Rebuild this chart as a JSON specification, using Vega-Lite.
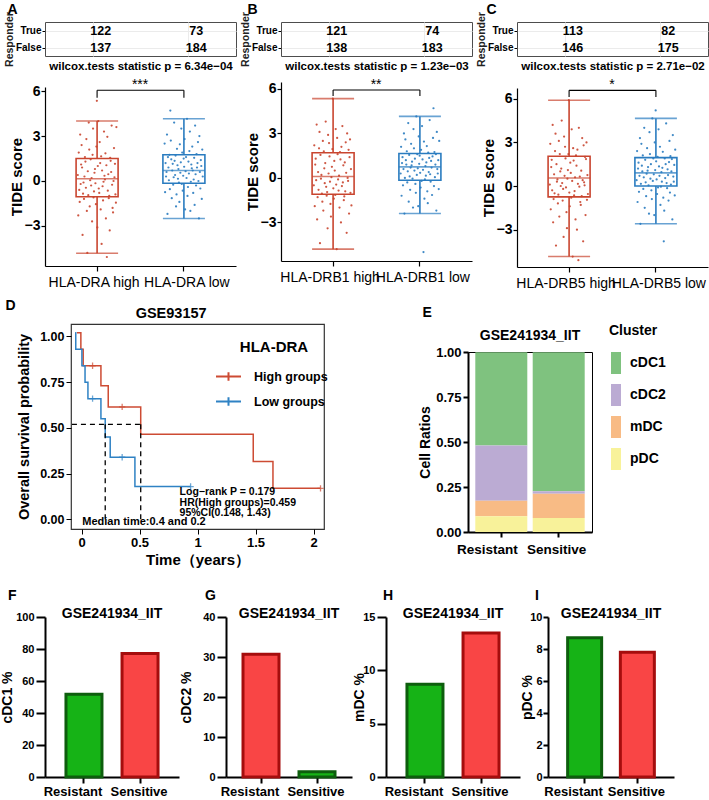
{
"$schema":"https://vega.github.io/schema/vega-lite/v6.json",
"padding":{"left":0,"top":3,"right":0,"bottom":0},
"config":{
 "font":"Liberation Sans",
 "view":{"stroke":null},
 "axis":{"labelFont":"Liberation Sans","titleFont":"Liberation Sans","labelColor":"#000","titleColor":"#000","domainColor":"#000","tickColor":"#000","grid":false},
 "legend":{"labelFont":"Liberation Sans","titleFont":"Liberation Sans","labelColor":"#000","titleColor":"#000"},
 "title":{"font":"Liberation Sans","fontWeight":"bold","color":"#000","fontSize":14},
 "text":{"font":"Liberation Sans"}
},
"datasets":{
 "pts":[
  {"p":"A","g":"HLA-DRA high","lv":"high","v":[0.4,-2.3,1.9,-0.6,-1.4,3.1,-0.2,1.1,2.4,0.9,-3.6,-0.85,-0.1,-1.2,0.3,1.6,1.3,-0.45,2.8,-2.0,-4.8,0.65,-0.95,3.9,2.1,-1.7,0.05,1.45,-0.3,0.2,-2.7,1.75,3.5,-1.1,-0.7,0.55,0.8,-0.15,-1.55,2.3,5.35,-3.1,1.0,4.0,-0.5,-0.8,2.6,1.2,-1.9,1.65,-4.2,0.7,-0.35,-1.3,-0.05,3.3,0.35,0.1,1.85,-2.5,1.05,-5.07,2.95,-0.65,0.45,-1.15,-1.0,-3.3,1.55,1.35,0.6,3.7,-0.25,-1.8,-2.1,0.0,2.2,0.25,1.15,-0.9,-1.45,3.6]},
  {"p":"A","g":"HLA-DRA low","lv":"low","v":[2.5,-0.75,1.2,0.3,0.6,3.1,-2.2,1.6,0.9,0.05,1.75,-0.55,4.7,2.7,1.45,-1.15,0.7,1.15,-0.25,0.25,3.9,1.35,0.4,1.7,-1.7,-0.9,2.15,1.05,0.15,0.8,-0.1,-1.4,2.45,0.55,1.25,3.5,-0.2,1.9,-0.65,0.35,1.5,0.95,2.8,-1.9,0.65,1.6,0.2,4.15,-1.0,-0.4,1.3,0.5,2.0,3.3,-2.0,-0.05,1.1,0.85,2.3,0.7,-0.8,0.1,1.55,-1.6,3.7,0.45,-0.3,1.8,0.9,1.2,2.6,0.0,-2.5,3.0,0.6,-0.5,1.4,1.0,-1.2,2.1,0.3]},
  {"p":"B","g":"HLA-DRB1 high","lv":"high","v":[-0.5,2.2,-1.9,0.9,1.3,-0.15,3.6,-2.8,-1.3,0.4,-0.8,2.0,3.1,-4.4,1.55,-0.05,0.2,-1.05,-1.6,2.5,-2.2,1.8,0.65,-0.35,1.0,3.8,-0.6,-1.2,-0.95,-3.4,2.9,0.3,2.35,1.45,-0.25,-1.75,-2.6,0.05,0.75,1.95,5.35,-0.7,-1.4,1.15,0.5,-1.15,3.3,-0.45,-4.8,2.7,1.6,-0.1,-0.85,0.15,-2.0,1.75,1.25,-3.0,2.1,-0.55,3.5,-0.3,0.85,-1.5,-1.25,1.05,-0.9,2.4,0.35,-3.7,3.0,0.0,-0.2,1.9,-2.4,1.4,2.6,-1.0,0.6,-1.85]},
  {"p":"B","g":"HLA-DRB1 low","lv":"low","v":[0.3,2.1,-1.2,1.0,1.4,-0.5,0.6,3.0,-2.4,0.0,2.6,1.2,0.9,1.8,-0.3,0.45,3.7,-1.6,1.55,0.1,-0.8,0.7,2.3,0.85,1.1,-0.05,-2.0,3.3,2.0,0.5,1.3,-0.4,-1.0,4.15,0.2,1.6,0.65,-1.9,2.8,0.95,1.5,0.35,-0.65,1.9,-0.2,3.5,1.25,0.55,-5.0,2.45,-1.4,-0.1,0.8,0.15,1.05,2.15,-0.9,-1.7,1.7,0.4,1.35,3.9,0.25,-0.25,1.15,0.7,-1.15,1.45,2.7,4.7,-0.55,1.75,0.05,0.9,1.6,-2.2,3.1,0.6,0.3,1.2,-0.75,2.5]},
  {"p":"C","g":"HLA-DRB5 high","lv":"high","v":[0.1,2.9,-1.6,1.3,1.8,-0.3,4.2,-2.5,-0.9,0.8,-0.5,2.4,3.6,-4.1,1.5,0.3,0.45,-1.2,-0.6,3.1,-2.1,2.2,1.0,0.0,1.2,4.5,0.2,-1.0,-0.2,-3.5,3.4,0.7,2.7,1.9,-0.1,-1.8,-2.9,0.5,1.1,2.2,5.9,-0.45,-1.4,1.6,0.9,-0.8,3.9,0.35,-4.85,2.6,1.75,-0.65,-0.35,0.6,-2.3,2.1,1.4,-3.0,2.5,0.15,-5.1,4.0,-0.05,0.65,-1.1,-1.3,1.05,-0.7,3.3,0.4,-3.8,2.8,0.25,0.05,2.0,-2.0,1.85,3.0,-0.95,0.75,-0.55]},
  {"p":"C","g":"HLA-DRB5 low","lv":"low","v":[0.4,2.4,-1.1,1.2,1.6,-0.4,0.7,3.3,-2.6,0.15,2.9,1.4,1.0,2.1,-0.2,0.6,4.0,-1.5,1.8,0.25,-0.7,0.85,2.6,1.05,1.3,0.05,-1.9,3.7,2.2,0.5,1.5,-0.3,-0.9,4.65,0.35,1.9,0.8,-2.0,3.0,1.1,5.2,1.7,0.45,-0.55,2.0,-0.1,3.9,1.35,0.7,2.7,-1.3,-0.05,0.95,0.3,1.25,2.35,-0.8,-3.8,-1.7,1.9,0.55,1.5,4.3,0.2,-0.15,1.15,0.75,-1.0,1.65,3.1,-0.45,2.05,0.1,1.0,1.85,-2.3,3.5,0.65,0.3,1.45,-0.65,2.5]}
 ],
 "box":[
  {"p":"A","g":"HLA-DRA high","lv":"high","lo":-4.82,"q1":-1.05,"md":0.15,"q3":1.5,"hi":4.0},
  {"p":"A","g":"HLA-DRA low","lv":"low","lo":-2.5,"q1":-0.15,"md":0.7,"q3":1.75,"hi":4.15},
  {"p":"B","g":"HLA-DRB1 high","lv":"high","lo":-4.8,"q1":-1.1,"md":0.1,"q3":1.7,"hi":5.35},
  {"p":"B","g":"HLA-DRB1 low","lv":"low","lo":-2.4,"q1":-0.15,"md":0.75,"q3":1.65,"hi":4.15},
  {"p":"C","g":"HLA-DRB5 high","lv":"high","lo":-4.85,"q1":-0.75,"md":0.55,"q3":2.05,"hi":5.9},
  {"p":"C","g":"HLA-DRB5 low","lv":"low","lo":-2.6,"q1":0.0,"md":0.9,"q3":1.95,"hi":4.65}
 ],
 "tab":[
  {"p":"A","g":"HLA-DRA high","r":"True","n":122},{"p":"A","g":"HLA-DRA high","r":"False","n":137},
  {"p":"A","g":"HLA-DRA low","r":"True","n":73},{"p":"A","g":"HLA-DRA low","r":"False","n":184},
  {"p":"B","g":"HLA-DRB1 high","r":"True","n":121},{"p":"B","g":"HLA-DRB1 high","r":"False","n":138},
  {"p":"B","g":"HLA-DRB1 low","r":"True","n":74},{"p":"B","g":"HLA-DRB1 low","r":"False","n":183},
  {"p":"C","g":"HLA-DRB5 high","r":"True","n":113},{"p":"C","g":"HLA-DRB5 high","r":"False","n":146},
  {"p":"C","g":"HLA-DRB5 low","r":"True","n":82},{"p":"C","g":"HLA-DRB5 low","r":"False","n":175}
 ],
 "km":[
  {"grp":"High groups","t":-0.04,"s":1.02},{"grp":"High groups","t":-0.006,"s":0.93},{"grp":"High groups","t":0.014,"s":0.84},
  {"grp":"High groups","t":0.167,"s":0.73},{"grp":"High groups","t":0.23,"s":0.615},{"grp":"High groups","t":0.51,"s":0.466},
  {"grp":"High groups","t":1.48,"s":0.317},{"grp":"High groups","t":1.65,"s":0.17},{"grp":"High groups","t":2.06,"s":0.17},
  {"grp":"Low groups","t":-0.055,"s":1.02},{"grp":"Low groups","t":-0.05,"s":0.93},{"grp":"Low groups","t":0.003,"s":0.84},
  {"grp":"Low groups","t":0.03,"s":0.75},{"grp":"Low groups","t":0.055,"s":0.66},{"grp":"Low groups","t":0.167,"s":0.55},
  {"grp":"Low groups","t":0.204,"s":0.45},{"grp":"Low groups","t":0.247,"s":0.34},{"grp":"Low groups","t":0.46,"s":0.18},
  {"grp":"Low groups","t":0.94,"s":0.18}
 ],
 "cens":[
  {"grp":"High groups","t":0.095,"s":0.84},{"grp":"High groups","t":0.35,"s":0.615},{"grp":"High groups","t":2.06,"s":0.17},
  {"grp":"Low groups","t":0.095,"s":0.66},{"grp":"Low groups","t":0.35,"s":0.34},{"grp":"Low groups","t":0.94,"s":0.18}
 ],
 "med":[
  {"t":-0.083,"t2":0.51,"s":0.52,"s2":0.52},
  {"t":0.204,"t2":0.204,"s":0.52,"s2":0},
  {"t":0.51,"t2":0.51,"s":0.52,"s2":0}
 ],
 "dc":[
  {"cl":"cDC1","grp":"Resistant","pct":51.7},{"cl":"cDC1","grp":"Sensitive","pct":77.2},
  {"cl":"cDC2","grp":"Resistant","pct":30.7},{"cl":"cDC2","grp":"Sensitive","pct":1.3},
  {"cl":"mDC","grp":"Resistant","pct":8.7},{"cl":"mDC","grp":"Sensitive","pct":13.5},
  {"cl":"pDC","grp":"Resistant","pct":8.7},{"cl":"pDC","grp":"Sensitive","pct":7.8}
 ]
},
"resolve":{"scale":{"color":"independent","stroke":"independent"}},
"columns":1,
"align":"none",
"spacing":8,
"concat":[
 {"hconcat":[
  {"title":{"text":"A","anchor":"start","frame":"bounds","fontSize":14,"dx":4,"offset":-6},
   "spacing":6,
   "vconcat":[
    {"width":191,"height":34,"view":{"stroke":"#4d4d4d","strokeWidth":1},
     "data":{"name":"tab"},"transform":[{"filter":"datum.p=='A'"}],
     "mark":{"type":"text","fontSize":12.5,"fontWeight":"bold","dx":8},
     "encoding":{
      "x":{"field":"g","type":"nominal","sort":null,"scale":{"paddingInner":0,"paddingOuter":0.1},"axis":{"labels":false,"ticks":false,"domain":false,"grid":true,"gridColor":"#ebebeb","title":"wilcox.tests statistic p = 6.34e−04","titleFontSize":11.5,"titleFontWeight":"bold","titlePadding":4}},
      "y":{"field":"r","type":"nominal","sort":["True","False"],"axis":{"title":"Responder","titleX":-31,"titleFontSize":10.5,"titleFontWeight":"bold","titleColor":"#222","labelFontSize":10,"labelFontWeight":"bold","tickSize":3,"domain":false,"grid":true,"gridColor":"#ebebeb","labelPadding":1}},
      "text":{"field":"n","type":"quantitative"}}},
    {"width":191,"height":179,
     "encoding":{"x":{"field":"g","type":"nominal","sort":null,"scale":{"paddingInner":0.55,"paddingOuter":0.375},"axis":{"title":null,"labelAngle":0,"labelFontSize":14,"labelPadding":4,"tickSize":5,"tickWidth":1.2,"domainWidth":1.2,"labelOffset":{"condition":{"test":"datum.value=='HLA-DRA high'","value":-3},"value":3}}}},
     "layer":[
      {"data":{"name":"pts"},"transform":[{"filter":"datum.p=='A'"},{"flatten":["v"]},{"window":[{"op":"row_number","as":"k"}],"groupby":["g"]}],
       "mark":{"type":"circle","size":5,"opacity":0.9},
       "encoding":{
        "y":{"field":"v","type":"quantitative","scale":{"domain":[-5.67,6.27],"nice":false,"zero":false},"axis":{"title":"TIDE score","titleX":-21,"values":[-3,0,3,6],"labelFontSize":14,"labelFontWeight":"bold","titleFontSize":15,"titleFontWeight":"bold","tickSize":4,"tickWidth":1.2,"domainWidth":1.2,"labelPadding":1}},
        "xOffset":{"field":"k","type":"nominal"},
        "color":{"field":"lv","type":"nominal","scale":{"domain":["high","low"],"range":["#c9452f","#2a7cc0"]},"legend":null}}},
      {"data":{"name":"box"},"transform":[{"filter":"datum.p=='A'"}],"mark":{"type":"rule","strokeWidth":1.6},
       "encoding":{"y":{"field":"lo","type":"quantitative","title":"TIDE score"},"y2":{"field":"q1"},"color":{"field":"lv","type":"nominal","legend":null}}},
      {"data":{"name":"box"},"transform":[{"filter":"datum.p=='A'"}],"mark":{"type":"rule","strokeWidth":1.6},
       "encoding":{"y":{"field":"q3","type":"quantitative","title":"TIDE score"},"y2":{"field":"hi"},"color":{"field":"lv","type":"nominal","legend":null}}},
      {"data":{"name":"box"},"transform":[{"filter":"datum.p=='A'"}],"mark":{"type":"bar","width":42,"fillOpacity":0,"strokeWidth":1.6},
       "encoding":{"y":{"field":"q1","type":"quantitative","title":"TIDE score"},"y2":{"field":"q3"},"stroke":{"field":"lv","type":"nominal","scale":{"domain":["high","low"],"range":["#c9452f","#2a7cc0"]},"legend":null}}},
      {"data":{"name":"box"},"transform":[{"filter":"datum.p=='A'"},{"fold":["lo","hi","md"],"as":["stat","val"]}],"mark":{"type":"tick","size":42,"thickness":1.6},
       "encoding":{"y":{"field":"val","type":"quantitative","title":"TIDE score"},"color":{"field":"lv","type":"nominal","legend":null}}},
      {"data":{"values":[{}]},"mark":{"type":"rule","color":"#000","strokeWidth":1.1},
       "encoding":{"x":{"datum":"HLA-DRA high"},"x2":{"datum":"HLA-DRA low"},"y":{"datum":6.05}}},
      {"data":{"values":[{}]},"mark":{"type":"rule","color":"#000","strokeWidth":1.1},
       "encoding":{"x":{"datum":"HLA-DRA high"},"y":{"datum":6.05},"y2":{"datum":5.55}}},
      {"data":{"values":[{}]},"mark":{"type":"rule","color":"#000","strokeWidth":1.1},
       "encoding":{"x":{"datum":"HLA-DRA low"},"y":{"datum":6.05},"y2":{"datum":5.55}}},
      {"data":{"values":[{}]},"mark":{"type":"text","text":"***","fontSize":14,"baseline":"alphabetic","dx":43,"dy":-1,"color":"#000"},
       "encoding":{"x":{"datum":"HLA-DRA high"},"y":{"datum":6.05}}}
     ]}
   ]},
  {"title":{"text":"B","anchor":"start","frame":"bounds","fontSize":14,"dx":8,"offset":-6},
   "spacing":6,
   "vconcat":[
    {"width":191,"height":34,"view":{"stroke":"#4d4d4d","strokeWidth":1},
     "data":{"name":"tab"},"transform":[{"filter":"datum.p=='B'"}],
     "mark":{"type":"text","fontSize":12.5,"fontWeight":"bold","dx":8},
     "encoding":{
      "x":{"field":"g","type":"nominal","sort":null,"scale":{"paddingInner":0,"paddingOuter":0.1},"axis":{"labels":false,"ticks":false,"domain":false,"grid":true,"gridColor":"#ebebeb","title":"wilcox.tests statistic p = 1.23e−03","titleFontSize":11.5,"titleFontWeight":"bold","titlePadding":4}},
      "y":{"field":"r","type":"nominal","sort":["True","False"],"axis":{"title":"Responder","titleX":-31,"titleFontSize":10.5,"titleFontWeight":"bold","titleColor":"#222","labelFontSize":10,"labelFontWeight":"bold","tickSize":3,"domain":false,"grid":true,"gridColor":"#ebebeb","labelPadding":1}},
      "text":{"field":"n","type":"quantitative"}}},
    {"width":191,"height":179,
     "encoding":{"x":{"field":"g","type":"nominal","sort":null,"scale":{"paddingInner":0.55,"paddingOuter":0.375},"axis":{"title":null,"labelAngle":0,"labelFontSize":14,"labelPadding":4,"tickSize":5,"tickWidth":1.2,"domainWidth":1.2,"labelOffset":{"condition":{"test":"datum.value=='HLA-DRB1 high'","value":-3},"value":3}}}},
     "layer":[
      {"data":{"name":"pts"},"transform":[{"filter":"datum.p=='B'"},{"flatten":["v"]},{"window":[{"op":"row_number","as":"k"}],"groupby":["g"]}],
       "mark":{"type":"circle","size":5,"opacity":0.9},
       "encoding":{
        "y":{"field":"v","type":"quantitative","scale":{"domain":[-5.6,6.47],"nice":false,"zero":false},"axis":{"title":"TIDE score","titleX":-21,"values":[-3,0,3,6],"labelFontSize":14,"labelFontWeight":"bold","titleFontSize":15,"titleFontWeight":"bold","tickSize":4,"tickWidth":1.2,"domainWidth":1.2,"labelPadding":1}},
        "xOffset":{"field":"k","type":"nominal"},
        "color":{"field":"lv","type":"nominal","scale":{"domain":["high","low"],"range":["#c9452f","#2a7cc0"]},"legend":null}}},
      {"data":{"name":"box"},"transform":[{"filter":"datum.p=='B'"}],"mark":{"type":"rule","strokeWidth":1.6},
       "encoding":{"y":{"field":"lo","type":"quantitative","title":"TIDE score"},"y2":{"field":"q1"},"color":{"field":"lv","type":"nominal","legend":null}}},
      {"data":{"name":"box"},"transform":[{"filter":"datum.p=='B'"}],"mark":{"type":"rule","strokeWidth":1.6},
       "encoding":{"y":{"field":"q3","type":"quantitative","title":"TIDE score"},"y2":{"field":"hi"},"color":{"field":"lv","type":"nominal","legend":null}}},
      {"data":{"name":"box"},"transform":[{"filter":"datum.p=='B'"}],"mark":{"type":"bar","width":42,"fillOpacity":0,"strokeWidth":1.6},
       "encoding":{"y":{"field":"q1","type":"quantitative","title":"TIDE score"},"y2":{"field":"q3"},"stroke":{"field":"lv","type":"nominal","scale":{"domain":["high","low"],"range":["#c9452f","#2a7cc0"]},"legend":null}}},
      {"data":{"name":"box"},"transform":[{"filter":"datum.p=='B'"},{"fold":["lo","hi","md"],"as":["stat","val"]}],"mark":{"type":"tick","size":42,"thickness":1.6},
       "encoding":{"y":{"field":"val","type":"quantitative","title":"TIDE score"},"color":{"field":"lv","type":"nominal","legend":null}}},
      {"data":{"values":[{}]},"mark":{"type":"rule","color":"#000","strokeWidth":1.1},
       "encoding":{"x":{"datum":"HLA-DRB1 high"},"x2":{"datum":"HLA-DRB1 low"},"y":{"datum":5.93}}},
      {"data":{"values":[{}]},"mark":{"type":"rule","color":"#000","strokeWidth":1.1},
       "encoding":{"x":{"datum":"HLA-DRB1 high"},"y":{"datum":5.93},"y2":{"datum":5.53}}},
      {"data":{"values":[{}]},"mark":{"type":"rule","color":"#000","strokeWidth":1.1},
       "encoding":{"x":{"datum":"HLA-DRB1 low"},"y":{"datum":5.93},"y2":{"datum":5.53}}},
      {"data":{"values":[{}]},"mark":{"type":"text","text":"**","fontSize":14,"baseline":"alphabetic","dx":43,"dy":-1,"color":"#000"},
       "encoding":{"x":{"datum":"HLA-DRB1 high"},"y":{"datum":5.93}}}
     ]}
   ]},
  {"title":{"text":"C","anchor":"start","frame":"bounds","fontSize":14,"dx":11,"offset":-6},
   "spacing":6,
   "vconcat":[
    {"width":191,"height":34,"view":{"stroke":"#4d4d4d","strokeWidth":1},
     "data":{"name":"tab"},"transform":[{"filter":"datum.p=='C'"}],
     "mark":{"type":"text","fontSize":12.5,"fontWeight":"bold","dx":8},
     "encoding":{
      "x":{"field":"g","type":"nominal","sort":null,"scale":{"paddingInner":0,"paddingOuter":0.1},"axis":{"labels":false,"ticks":false,"domain":false,"grid":true,"gridColor":"#ebebeb","title":"wilcox.tests statistic p = 2.71e−02","titleFontSize":11.5,"titleFontWeight":"bold","titlePadding":4}},
      "y":{"field":"r","type":"nominal","sort":["True","False"],"axis":{"title":"Responder","titleX":-31,"titleFontSize":10.5,"titleFontWeight":"bold","titleColor":"#222","labelFontSize":10,"labelFontWeight":"bold","tickSize":3,"domain":false,"grid":true,"gridColor":"#ebebeb","labelPadding":1}},
      "text":{"field":"n","type":"quantitative"}}},
    {"width":191,"height":179,
     "encoding":{"x":{"field":"g","type":"nominal","sort":null,"scale":{"paddingInner":0.55,"paddingOuter":0.375},"axis":{"title":null,"labelAngle":0,"labelFontSize":14,"labelPadding":4,"tickSize":5,"tickWidth":1.2,"domainWidth":1.2,"labelOffset":{"condition":{"test":"datum.value=='HLA-DRB5 high'","value":-3},"value":3}}}},
     "layer":[
      {"data":{"name":"pts"},"transform":[{"filter":"datum.p=='C'"},{"flatten":["v"]},{"window":[{"op":"row_number","as":"k"}],"groupby":["g"]}],
       "mark":{"type":"circle","size":5,"opacity":0.9},
       "encoding":{
        "y":{"field":"v","type":"quantitative","scale":{"domain":[-5.57,6.74],"nice":false,"zero":false},"axis":{"title":"TIDE score","titleX":-21,"values":[-3,0,3,6],"labelFontSize":14,"labelFontWeight":"bold","titleFontSize":15,"titleFontWeight":"bold","tickSize":4,"tickWidth":1.2,"domainWidth":1.2,"labelPadding":1}},
        "xOffset":{"field":"k","type":"nominal"},
        "color":{"field":"lv","type":"nominal","scale":{"domain":["high","low"],"range":["#c9452f","#2a7cc0"]},"legend":null}}},
      {"data":{"name":"box"},"transform":[{"filter":"datum.p=='C'"}],"mark":{"type":"rule","strokeWidth":1.6},
       "encoding":{"y":{"field":"lo","type":"quantitative","title":"TIDE score"},"y2":{"field":"q1"},"color":{"field":"lv","type":"nominal","legend":null}}},
      {"data":{"name":"box"},"transform":[{"filter":"datum.p=='C'"}],"mark":{"type":"rule","strokeWidth":1.6},
       "encoding":{"y":{"field":"q3","type":"quantitative","title":"TIDE score"},"y2":{"field":"hi"},"color":{"field":"lv","type":"nominal","legend":null}}},
      {"data":{"name":"box"},"transform":[{"filter":"datum.p=='C'"}],"mark":{"type":"bar","width":42,"fillOpacity":0,"strokeWidth":1.6},
       "encoding":{"y":{"field":"q1","type":"quantitative","title":"TIDE score"},"y2":{"field":"q3"},"stroke":{"field":"lv","type":"nominal","scale":{"domain":["high","low"],"range":["#c9452f","#2a7cc0"]},"legend":null}}},
      {"data":{"name":"box"},"transform":[{"filter":"datum.p=='C'"},{"fold":["lo","hi","md"],"as":["stat","val"]}],"mark":{"type":"tick","size":42,"thickness":1.6},
       "encoding":{"y":{"field":"val","type":"quantitative","title":"TIDE score"},"color":{"field":"lv","type":"nominal","legend":null}}},
      {"data":{"values":[{}]},"mark":{"type":"rule","color":"#000","strokeWidth":1.1},
       "encoding":{"x":{"datum":"HLA-DRB5 high"},"x2":{"datum":"HLA-DRB5 low"},"y":{"datum":6.58}}},
      {"data":{"values":[{}]},"mark":{"type":"rule","color":"#000","strokeWidth":1.1},
       "encoding":{"x":{"datum":"HLA-DRB5 high"},"y":{"datum":6.58},"y2":{"datum":6.12}}},
      {"data":{"values":[{}]},"mark":{"type":"rule","color":"#000","strokeWidth":1.1},
       "encoding":{"x":{"datum":"HLA-DRB5 low"},"y":{"datum":6.58},"y2":{"datum":6.12}}},
      {"data":{"values":[{}]},"mark":{"type":"text","text":"*","fontSize":14,"baseline":"alphabetic","dx":43,"dy":-1,"color":"#000"},
       "encoding":{"x":{"datum":"HLA-DRB5 high"},"y":{"datum":6.58}}}
     ]}
   ]}
 ],"spacing":2},
 {"hconcat":[
  {"width":1,"height":1,"data":{"values":[]},"mark":{"type":"point"}},
  {"hconcat":[
   {"title":{"text":"D","anchor":"start","frame":"bounds","fontSize":14,"dx":-10,"offset":-8},
    "vconcat":[
     {"title":{"text":"GSE93157","fontSize":14.5,"frame":"bounds","offset":3},
      "width":253,"height":205,"view":{"stroke":"#333","strokeWidth":1.2},
      "layer":[
       {"data":{"name":"km"},"mark":{"type":"line","interpolate":"step-after","strokeWidth":1.5},
        "encoding":{
         "x":{"field":"t","type":"quantitative","scale":{"domain":[-0.091,2.09],"nice":false,"zero":false},"axis":{"values":[0,0.5,1,1.5,2],"format":".1~f","title":"Time（years）","titleFontSize":15,"titleFontWeight":"bold","labelFontSize":13,"labelFontWeight":"bold","tickSize":5,"domain":false,"titlePadding":3}},
         "y":{"field":"s","type":"quantitative","scale":{"domain":[-0.052,1.068],"nice":false,"zero":false},"axis":{"values":[0,0.25,0.5,0.75,1],"format":".2f","title":"Overall survival probability","titleX":-40,"titleFontSize":14.5,"titleFontWeight":"bold","labelFontSize":12.5,"labelFontWeight":"bold","tickSize":5,"domain":false}},
         "color":{"field":"grp","type":"nominal","scale":{"domain":["High groups","Low groups"],"range":["#cd4b33","#2f82c4"]},
          "legend":{"title":"HLA-DRA","orient":"none","legendX":150,"legendY":16,"titleFontSize":15,"titleFontWeight":"bold","labelFontSize":12.5,"labelFontWeight":"bold","symbolType":"M-2,0H2M0,-0.7V0.7","symbolSize":156,"symbolStrokeWidth":2,"labelOffset":18,"rowPadding":8,"titlePadding":14,"padding":0,"titleAnchor":"middle"}}}},
       {"data":{"name":"cens"},"mark":{"type":"point","shape":"M-1,0H1M0,-1V1","size":40,"strokeWidth":1.3},
        "encoding":{"x":{"field":"t","type":"quantitative"},"y":{"field":"s","type":"quantitative"},"color":{"field":"grp","type":"nominal","legend":null}}},
       {"data":{"name":"med"},"mark":{"type":"rule","strokeDash":[5,4],"strokeWidth":1.3,"color":"#000"},
        "encoding":{"x":{"field":"t","type":"quantitative"},"x2":{"field":"t2"},"y":{"field":"s","type":"quantitative"},"y2":{"field":"s2"}}},
       {"data":{"values":[{}]},"mark":{"type":"text","align":"left","baseline":"top","fontSize":10.5,"fontWeight":"bold","lineHeight":10.5,"color":"#000","text":["Log−rank P = 0.179","HR(High groups)=0.459"," 95%CI(0.148, 1.43)"]},
        "encoding":{"x":{"datum":0.845},"y":{"datum":0.176}}},
       {"data":{"values":[{}]},"mark":{"type":"text","align":"left","baseline":"middle","fontSize":11,"fontWeight":"bold","color":"#000","text":"Median time:0.4 and 0.2"},
        "encoding":{"x":{"datum":0.006},"y":{"datum":-0.013}}}
      ]}
    ]},
   {"title":{"text":"E","anchor":"start","frame":"bounds","fontSize":14,"dx":5,"offset":4},
    "spacing":3,
    "vconcat":[
     {"width":124,"height":1,"data":{"values":[]},"mark":{"type":"point"}},
     {"title":{"text":"GSE241934_IIT","fontSize":14,"frame":"group","offset":12,"dy":9},
      "width":124,"height":180,"view":{"stroke":"#000","strokeWidth":1},
      "data":{"name":"dc"},
      "mark":{"type":"bar","width":52},
      "encoding":{
       "x":{"field":"grp","type":"nominal","sort":["Resistant","Sensitive"],"scale":{"paddingInner":0.1,"paddingOuter":0.13},"axis":{"title":null,"labelAngle":0,"labelFontSize":13.5,"labelFontWeight":"bold","tickSize":5,"tickWidth":2,"domainWidth":2,"labelPadding":5,"labelOffset":{"condition":{"test":"datum.value=='Resistant'","value":-14},"value":-2}}},
       "y":{"field":"pct","type":"quantitative","stack":"zero","scale":{"domain":[0,100],"nice":false},"axis":{"values":[0,25,50,75,100],"labelExpr":"format(datum.value/100,'.2f')","title":"Cell Ratios","titleX":-36,"titleFontSize":14,"titleFontWeight":"bold","labelFontSize":13,"labelFontWeight":"bold","tickSize":5,"tickWidth":2,"domainWidth":2}},
       "color":{"field":"cl","type":"nominal","scale":{"domain":["cDC1","cDC2","mDC","pDC"],"range":["#7fc27f","#bbabd3","#f8bb85","#f8f29a"]},
        "legend":{"title":"Cluster","titleFontSize":14,"titleFontWeight":"bold","labelFontSize":14,"labelFontWeight":"bold","symbolType":"M-1,-2.2H1V2.2H-1Z","symbolSize":100,"symbolStrokeWidth":0,"symbolOpacity":1,"labelOffset":7,"rowPadding":10,"titlePadding":18,"offset":16}},
       "order":{"field":"cl","sort":"descending"}}}
    ]}
  ],"spacing":89,"resolve":{"scale":{"color":"independent","stroke":"independent"}}}
 ],"spacing":-41,"resolve":{"scale":{"color":"independent","stroke":"independent"}}},
 {"spacing":12,
  "vconcat":[
  {"width":1,"height":1,"data":{"values":[]},"mark":{"type":"point"}},
  {"hconcat":[
  {"title":{"text":"F","anchor":"start","frame":"bounds","fontSize":14,"dx":8,"offset":22,"dy":18},
   "vconcat":[
    {"title":{"text":"GSE241934_IIT","fontSize":14,"offset":1,"dy":11},
     "width":134,"height":160,"data":{"name":"dc"},"transform":[{"filter":"datum.cl=='cDC1'"}],
     "mark":{"type":"bar","strokeWidth":3,"width":36},
     "encoding":{
      "x":{"field":"grp","type":"nominal","sort":["Resistant","Sensitive"],"scale":{"paddingInner":0.35,"paddingOuter":0.37},"axis":{"title":null,"labelAngle":0,"labelFontSize":13,"labelFontWeight":"bold","tickSize":6,"tickWidth":2,"domainWidth":2,"labelPadding":2,"labelOffset":{"condition":{"test":"datum.value=='Resistant'","value":-11},"value":-1}}},
      "y":{"field":"pct","type":"quantitative","scale":{"domain":[0,100],"nice":false},"axis":{"values":[0,20,40,60,80,100],"title":"cDC1  %","titleX":-31,"titleFontSize":14,"titleFontWeight":"bold","labelFontSize":11,"labelFontWeight":"bold","tickSize":9,"tickWidth":2,"domainWidth":2,"labelPadding":2}},
      "fill":{"condition":{"test":"datum.grp=='Resistant'","value":"#16b316"},"value":"#f94545"},
      "stroke":{"condition":{"test":"datum.grp=='Resistant'","value":"#0d5e0d"},"value":"#a50d0d"}}}
   ]},
  {"title":{"text":"G","anchor":"start","frame":"bounds","fontSize":14,"dx":26,"offset":22,"dy":18},
   "vconcat":[
    {"title":{"text":"GSE241934_IIT","fontSize":14,"offset":1,"dy":11},
     "width":126,"height":160,"data":{"name":"dc"},"transform":[{"filter":"datum.cl=='cDC2'"}],
     "mark":{"type":"bar","strokeWidth":3,"width":36},
     "encoding":{
      "x":{"field":"grp","type":"nominal","sort":["Resistant","Sensitive"],"scale":{"paddingInner":0.35,"paddingOuter":0.3},"axis":{"title":null,"labelAngle":0,"labelFontSize":13,"labelFontWeight":"bold","tickSize":6,"tickWidth":2,"domainWidth":2,"labelPadding":2,"labelOffset":{"condition":{"test":"datum.value=='Resistant'","value":-11},"value":-1}}},
      "y":{"field":"pct","type":"quantitative","scale":{"domain":[0,40],"nice":false},"axis":{"values":[0,10,20,30,40],"title":"cDC2  %","titleX":-33,"titleFontSize":14,"titleFontWeight":"bold","labelFontSize":11,"labelFontWeight":"bold","tickSize":9,"tickWidth":2,"domainWidth":2,"labelPadding":2}},
      "fill":{"condition":{"test":"datum.grp=='Resistant'","value":"#f94545"},"value":"#16b316"},
      "stroke":{"condition":{"test":"datum.grp=='Resistant'","value":"#a50d0d"},"value":"#0d5e0d"}}}
   ]},
  {"title":{"text":"H","anchor":"start","frame":"bounds","fontSize":14,"dx":31,"offset":22,"dy":18},
   "vconcat":[
    {"title":{"text":"GSE241934_IIT","fontSize":14,"offset":1,"dy":11},
     "width":134,"height":160,"data":{"name":"dc"},"transform":[{"filter":"datum.cl=='mDC'"}],
     "mark":{"type":"bar","strokeWidth":3,"width":36},
     "encoding":{
      "x":{"field":"grp","type":"nominal","sort":["Resistant","Sensitive"],"scale":{"paddingInner":0.35,"paddingOuter":0.37},"axis":{"title":null,"labelAngle":0,"labelFontSize":13,"labelFontWeight":"bold","tickSize":6,"tickWidth":2,"domainWidth":2,"labelPadding":2,"labelOffset":{"condition":{"test":"datum.value=='Resistant'","value":-11},"value":-1}}},
      "y":{"field":"pct","type":"quantitative","scale":{"domain":[0,15],"nice":false},"axis":{"values":[0,5,10,15],"title":"mDC  %","titleX":-20,"titleFontSize":14,"titleFontWeight":"bold","labelFontSize":11,"labelFontWeight":"bold","tickSize":9,"tickWidth":2,"domainWidth":2,"labelPadding":2}},
      "fill":{"condition":{"test":"datum.grp=='Resistant'","value":"#16b316"},"value":"#f94545"},
      "stroke":{"condition":{"test":"datum.grp=='Resistant'","value":"#0d5e0d"},"value":"#a50d0d"}}}
   ]},
  {"title":{"text":"I","anchor":"start","frame":"bounds","fontSize":14,"dx":15,"offset":22,"dy":18},
   "vconcat":[
    {"title":{"text":"GSE241934_IIT","fontSize":14,"offset":1,"dy":11},
     "width":126,"height":160,"data":{"name":"dc"},"transform":[{"filter":"datum.cl=='pDC'"}],
     "mark":{"type":"bar","strokeWidth":3,"width":34},
     "encoding":{
      "x":{"field":"grp","type":"nominal","sort":["Resistant","Sensitive"],"scale":{"paddingInner":0.35,"paddingOuter":0.37},"axis":{"title":null,"labelAngle":0,"labelFontSize":13,"labelFontWeight":"bold","tickSize":6,"tickWidth":2,"domainWidth":2,"labelPadding":2,"labelOffset":{"condition":{"test":"datum.value=='Resistant'","value":-11},"value":-1}}},
      "y":{"field":"pct","type":"quantitative","scale":{"domain":[0,10],"nice":false},"axis":{"values":[0,2,4,6,8,10],"title":"pDC  %","titleX":-14,"titleFontSize":14,"titleFontWeight":"bold","labelFontSize":11,"labelFontWeight":"bold","tickSize":5,"tickWidth":2,"domainWidth":2,"labelPadding":1}},
      "fill":{"condition":{"test":"datum.grp=='Resistant'","value":"#16b316"},"value":"#f94545"},
      "stroke":{"condition":{"test":"datum.grp=='Resistant'","value":"#0d5e0d"},"value":"#a50d0d"}}}
   ]}
 ],"spacing":0}
 ]}
]
}
